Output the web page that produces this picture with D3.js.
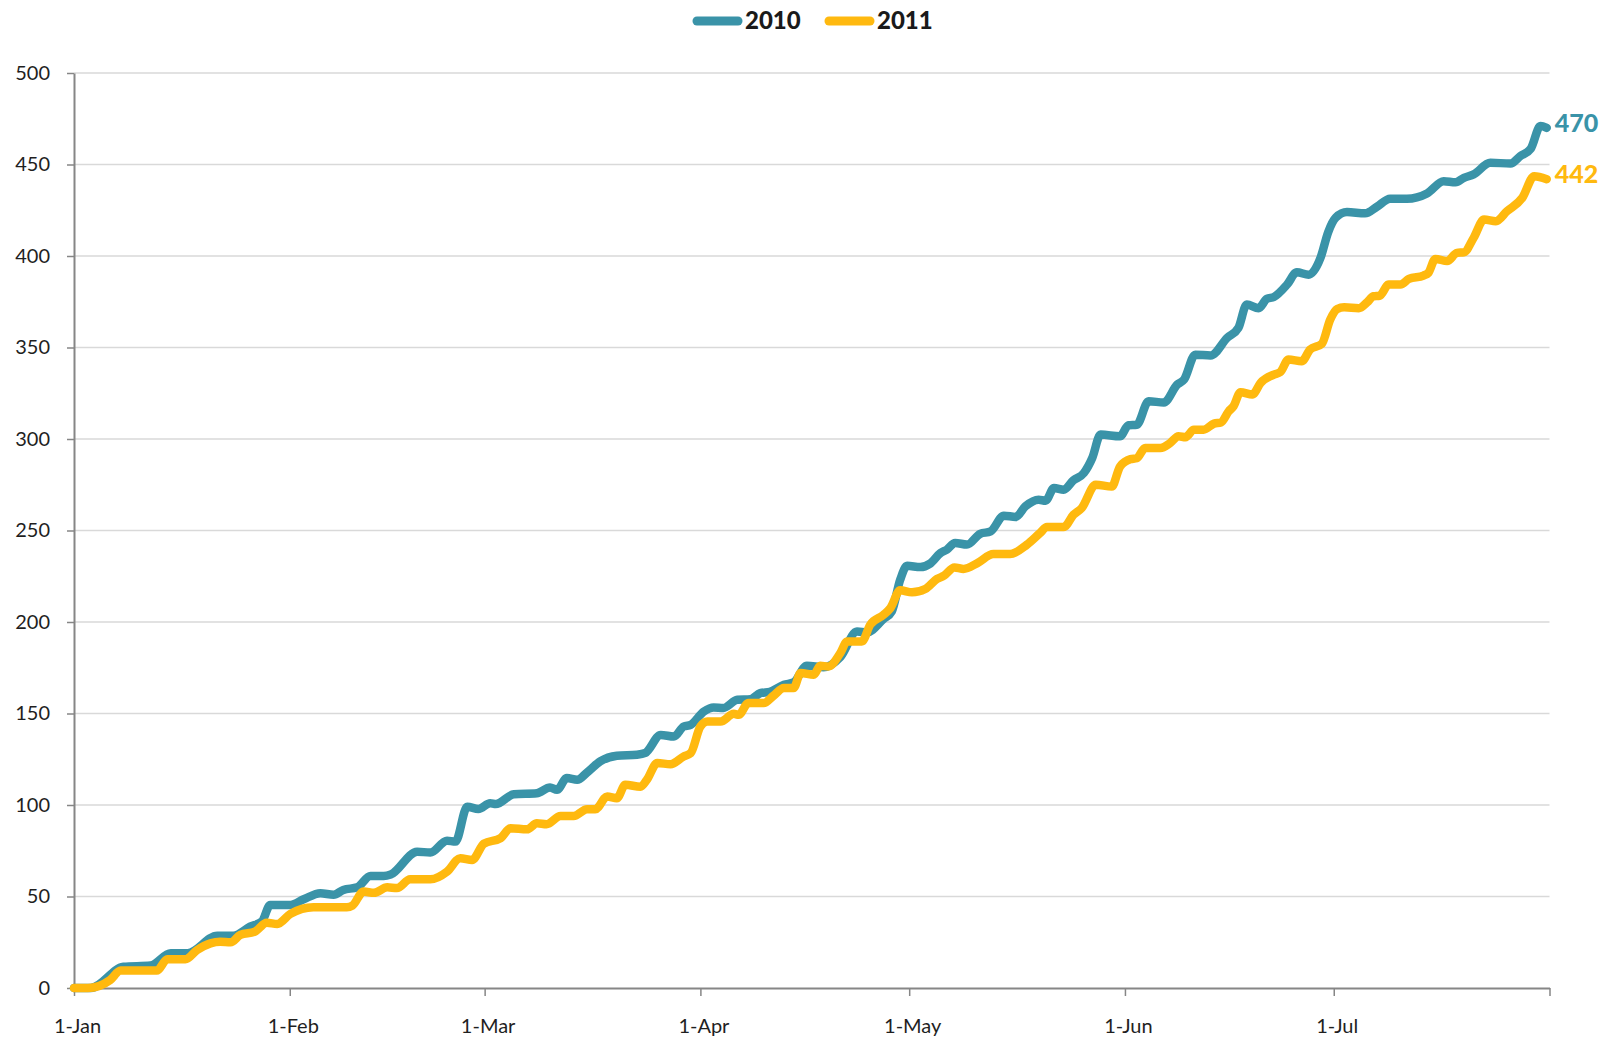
<!DOCTYPE html>
<html>
<head>
<meta charset="utf-8">
<script src="https://cdn.jsdelivr.net/npm/d3@7"></script>
<style>
    body { margin: 0; background: #fff; }
    text { font-family: Lato, "Open Sans", sans-serif; }
</style>
</head>
<body>
<svg id="chart" width="1602" height="1038"></svg>
<script>

// series names and colours
let seriesNames = ["2010", "2011"];
let seriesColors = ["#3A93A8", "#FFB90F"];

// day of year (0 = 1-Jan), with the running total at that day
let days2010 = [0, 2.4, 7.1, 11, 13.9, 16.3, 20.6, 22.9, 25.3, 27, 28.2, 31.1, 33, 35.4, 37.3, 38.7, 40.7, 42.6, 44.5, 45.5,
    49.3, 51.2, 53.6, 54.8, 56.5, 58.1, 59.8, 60.6, 63.2, 66.5, 68.4, 69.4, 70.8, 72.3, 73.7, 75.6, 78, 80.9, 82.1, 84.3,
    86.2, 87.6, 88.6, 90.5, 91.9, 93.3, 95.3, 97.2, 98.6, 100, 102, 103.4, 105.3, 107.7, 110.1, 112.5, 113.9, 116.3, 117.5, 118.7,
    119.7, 121.6, 123, 124.5, 125.4, 126.6, 128.3, 130.2, 131.7, 133.6, 135.3, 136.7, 138.6, 139.6, 140.8, 142.2, 143.6, 145.1, 146.3, 147.5,
    150.3, 151.5, 152.7, 154.4, 156.6, 158.5, 159.5, 161.1, 163.3, 165.7, 167.3, 168.5, 170.2, 171.4, 172.4, 174.3, 175.7, 177.4, 179.1, 180.2,
    181.3, 182.9, 185.5, 187.2, 189.1, 191.5, 194.4, 196.8, 198.5, 199.7, 201.1, 203.5, 206.4, 207.8, 209.3, 210.7, 211.6];
let values2010 = [0, 0, 11.6, 12.3, 19, 19, 28.6, 28.6, 33.5, 36.3, 45.4, 45.4, 48.5, 51.8, 51, 53.6, 55, 61.2, 61.2, 62,
    74.5, 74, 80.5, 80, 99, 97.8, 101, 100.5, 105.9, 106.4, 109.5, 108.3, 114.7, 113.8, 117.7, 123.8, 126.9, 127.5, 128.5, 138.3,
    137.4, 142.9, 143.8, 151.1, 153.3, 153, 157.5, 157.8, 161.1, 161.9, 165.7, 167, 176.1, 175.3, 180.8, 194.8, 194.3, 201.6, 205.8, 223,
    230.7, 230, 231.9, 237.7, 239.5, 243.2, 242.3, 248.2, 249.5, 258.1, 257.4, 263.2, 266.8, 266.3, 273.2, 272.3, 277.4, 281.4, 289.6, 302.4,
    301.5, 307.5, 307.8, 320.6, 320, 329.7, 332.5, 346.1, 345.6, 355.3, 360.7, 373.5, 371.5, 376.6, 377.6, 384.4, 391.1, 389.8, 399, 413,
    421, 424, 423.3, 426.9, 431.3, 431.3, 434.2, 440.9, 440.3, 442.7, 444.6, 450.9, 450.6, 454.6, 458.6, 471, 470];

let days2011 = [0, 2, 5.2, 6.7, 11.9, 13.4, 16, 17.7, 19.6, 21, 22.5, 23.9, 26, 27.7, 29.2, 31.1, 34.4, 39.2, 40, 41.6,
    43.1, 45, 46.4, 48.3, 51.2, 53.6, 55.5, 57.2, 58.9, 61.3, 62.7, 65.1, 66.5, 67.9, 69.9, 71.8, 73.7, 74.9, 76.6, 78,
    79.2, 81.4, 82.3, 83.8, 85.7, 87.6, 88.6, 90, 91, 92.9, 94.8, 95.5, 96.9, 99.1, 100.5, 102, 103.4, 104.4, 106.3, 107.2,
    108.4, 110.1, 111.1, 113.2, 114.4, 116.3, 117.3, 118.7, 120.4, 122.3, 124, 125, 126.5, 127.8, 129.8, 132.1, 134.5, 136.9, 138.8, 139.8,
    142.2, 143.6, 144.8, 146.8, 149.1, 150.3, 151.8, 152.7, 153.9, 156.1, 157.5, 158.7, 159.7, 160.9, 162.3, 163.8, 164.8, 165.9, 166.6, 167.6,
    169.3, 170.5, 172.4, 173.3, 174.5, 176.4, 177.6, 179.3, 180.5, 181.5, 182.5, 184.6, 185.8, 186.7, 187.6, 188.9, 190.6, 191.8, 193.9, 194.6,
    195.6, 197.3, 198.7, 199.7, 201.1, 202.6, 204.3, 205.9, 208.1, 209.8, 211.6];
let values2011 = [0, 0, 4.4, 9.5, 9.5, 15.7, 15.7, 20.8, 24.4, 25.3, 25, 29, 30.8, 35.7, 35, 40.5, 44.1, 44.1, 45, 52.7,
    52, 55, 54.6, 59.4, 59.4, 63.6, 70.9, 70, 78.9, 81.9, 87.3, 86.7, 90, 89.5, 94, 94, 97.7, 97.7, 104.6, 103.7,
    111, 110, 113.7, 122.9, 122.3, 126.5, 128.3, 142.9, 145.6, 145.6, 149.8, 149.3, 155.7, 155.7, 159.7, 163.9, 163.9, 172.1, 171.2, 176.1,
    175.7, 183, 189.4, 189.4, 198.5, 203.9, 207.6, 217.3, 216.2, 218, 223.5, 225.3, 229.8, 229, 232.2, 237.1, 237.1, 242.2, 248.6, 251.9,
    251.9, 258.6, 262.3, 275, 274, 285, 289, 289.5, 295.1, 295.1, 297.8, 301.5, 301, 305.1, 305.1, 308.4, 309, 315.1, 317.9, 325.5,
    324.3, 330.7, 335.2, 336.5, 343.4, 342.5, 348.9, 352.1, 365.3, 371, 372, 371.5, 374.7, 378, 378.3, 384.4, 384.4, 387.5, 389.3, 390.8,
    398.4, 397.2, 401.7, 402, 409.9, 419.9, 419, 424.5, 431.8, 443.6, 442];

// labels shown at the end of each line
let endLabels = [470, 442];

let yTicks = [0, 50, 100, 150, 200, 250, 300, 350, 400, 450, 500];

let svg = d3.select("#chart");

let margin = {top: 73, right: 52.5, bottom: 50, left: 74},
    width = 1602 - margin.left - margin.right,
    height = 988 - margin.top;

let baseDate = new Date(2011, 0, 1);
let endDate = new Date(2011, 7, 1);

function dayToDate(d) {
    return new Date(baseDate.getTime() + d * 864e5);
}

let x = d3.scaleTime()
    .domain([baseDate, endDate])
    .range([0, width]);

let y = d3.scaleLinear()
    .domain([0, 500])
    .range([height, 0]);

let g = svg.append("g")
    .attr("transform", `translate(${margin.left},${margin.top})`);

//horizontal gridlines
g.append("g")
    .selectAll("line")
    .data(yTicks.filter(t => t > 0))
    .enter()
    .append("line")
    .attr("x1", 0)
    .attr("x2", width)
    .attr("y1", d => y(d))
    .attr("y2", d => y(d))
    .style("stroke", "#D9D9D9")
    .style("stroke-width", 1.5);

//y axis
let yAxis = g.append("g")
    .call(d3.axisLeft(y).tickValues(yTicks).tickSize(7).tickPadding(17).tickSizeOuter(0));

//x axis, one tick at the start of each month
let monthFormat = d3.timeFormat("%-d-%b");
let xAxis = g.append("g")
    .attr("transform", `translate(0,${height})`)
    .call(d3.axisBottom(x)
        .tickValues(d3.timeMonth.range(baseDate, d3.timeDay.offset(endDate, 1)))
        .tickFormat(d => d < endDate ? monthFormat(d) : "")
        .tickSize(8)
        .tickPadding(23)
        .tickSizeOuter(0));

[xAxis, yAxis].forEach(function(a) {
    a.select(".domain").style("stroke", "#868686").style("stroke-width", 2);
    a.selectAll(".tick line").style("stroke", "#868686").style("stroke-width", 1.5);
    a.selectAll(".tick text")
        .style("font-family", "Lato, 'Open Sans', sans-serif")
        .style("font-size", "20px")
        .style("fill", "#1f1f1f");
});
xAxis.selectAll(".tick text").attr("dx", 3);

// build one list of points per series
let series = [
    days2010.map((d, i) => ({date: dayToDate(d), value: values2010[i]})),
    days2011.map((d, i) => ({date: dayToDate(d), value: values2011[i]}))
];

let line = d3.line()
    .x(d => x(d.date))
    .y(d => y(d.value))
    .curve(d3.curveMonotoneX);

g.selectAll(".series")
    .data(series)
    .enter()
    .append("path")
    .attr("class", "series")
    .attr("d", line)
    .style("fill", "none")
    .style("stroke", (d, i) => seriesColors[i])
    .style("stroke-width", 8.5)
    .style("stroke-linejoin", "round")
    .style("stroke-linecap", "round");

//value label at the end of each line
g.selectAll(".end-label")
    .data(series)
    .enter()
    .append("text")
    .attr("class", "end-label")
    .attr("x", d => x(d[d.length - 1].date) + 8)
    .attr("y", (d, i) => y(d[d.length - 1].value) - 5)
    .attr("dy", "0.35em")
    .style("font-size", "25px")
    .style("font-weight", "900")
    .style("fill", (d, i) => seriesColors[i])
    .text((d, i) => endLabels[i]);

//legend at the top
let legendX = [693, 825];
let legend = svg.append("g")
    .selectAll("g")
    .data(seriesNames)
    .enter()
    .append("g")
    .attr("transform", (d, i) => `translate(${legendX[i]},21)`);

legend.append("line")
    .attr("x1", 4)
    .attr("x2", 45)
    .style("stroke", (d, i) => seriesColors[i])
    .style("stroke-width", 9)
    .style("stroke-linecap", "round");

legend.append("text")
    .attr("x", 52)
    .attr("dy", "0.35em")
    .style("font-size", "24px")
    .style("font-weight", "900")
    .style("fill", "#1a1a1a")
    .text(d => d);

</script>
</body>
</html>
